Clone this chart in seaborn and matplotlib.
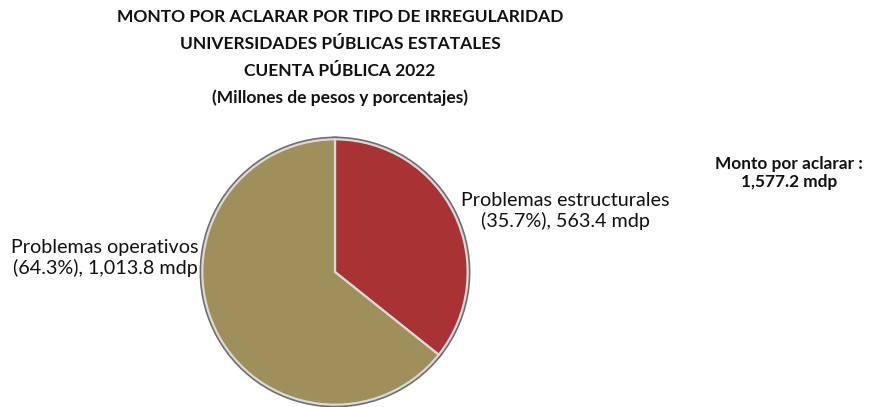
import matplotlib
matplotlib.use("Agg")
import matplotlib.pyplot as plt
import seaborn as sns

categories = ["Problemas estructurales", "Problemas operativos"]
values = [563.4, 1013.8]
percents = [35.7, 64.3]
value_labels = ["563.4", "1,013.8"]
total_label = "1,577.2"
colors = ["#A83234", "#9F8F5A"]
title_lines = [
    "MONTO POR ACLARAR POR TIPO DE IRREGULARIDAD",
    "UNIVERSIDADES PÚBLICAS ESTATALES",
    "CUENTA PÚBLICA 2022",
    "(Millones de pesos y porcentajes)",
]

sns.set_theme(style="white")
plt.rcParams['font.family'] = ['Lato', 'DejaVu Sans']

W, H = 878, 407
fig = plt.figure(figsize=(W / 100, H / 100), dpi=100)
fig.patch.set_facecolor("white")

cx, cy, r = 335, 272, 134
ax = fig.add_axes([(cx - r) / W, (H - cy - r) / H, 2 * r / W, 2 * r / H])
ax.axis("off")

# shadow/bevel layer
ax.pie(values, colors=colors, startangle=90, counterclock=False, radius=1.0,
       wedgeprops=dict(edgecolor="#6e6e6e", linewidth=4.0))
ax.pie(values, colors=colors, startangle=90, counterclock=False, radius=1.0,
       wedgeprops=dict(edgecolor="#d9d9d9", linewidth=1.6))
ax.set_xlim(-1.01, 1.01)
ax.set_ylim(-1.01, 1.01)
ax.set_aspect("equal")

for i, line in enumerate(title_lines):
    fig.text(340 / W, 1 - (17 + 27 * i) / H, line, ha="center", va="center",
             fontsize=12.5, fontweight="bold", color="#111111")

fig.text(565 / W, 1 - 211 / H,
         f"{categories[0]}\n({percents[0]}%), {value_labels[0]} mdp",
         ha="center", va="center", fontsize=14.2, color="#111111", linespacing=1.15)
fig.text(105 / W, 1 - 258 / H,
         f"{categories[1]}\n({percents[1]}%), {value_labels[1]} mdp",
         ha="center", va="center", fontsize=14.2, color="#111111", linespacing=1.15)

fig.text(789 / W, 1 - 173 / H, f"Monto por aclarar :\n{total_label} mdp",
         ha="center", va="center", fontsize=12.4, fontweight="bold", color="#111111",
         linespacing=1.2)

fig.savefig("out.png", dpi=100, facecolor="white")
